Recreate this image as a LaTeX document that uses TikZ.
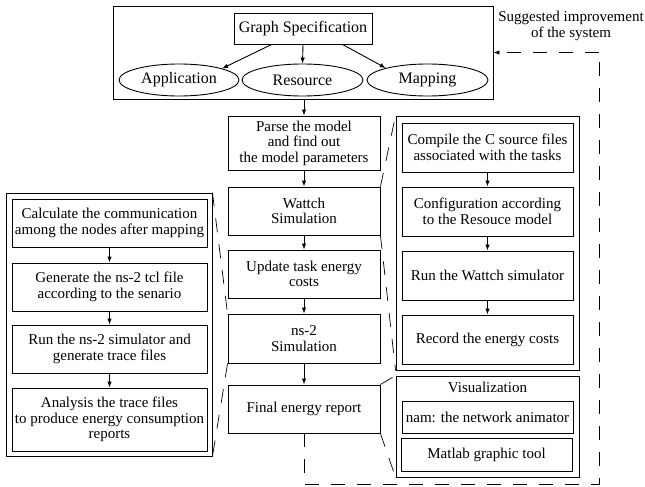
\documentclass[tikz,border=0pt]{standalone}
\usepackage{fontspec}
\setmainfont{Liberation Serif}
\usetikzlibrary{arrows.meta,shapes.geometric}
\begin{document}
\begin{tikzpicture}[x=1pt,y=-1pt,
  every node/.style={font=\fontsize{15}{15.5}\selectfont, align=center, inner sep=0pt},
  box/.style={draw, line width=0.9pt, rectangle, minimum width=#1},
  box/.default=152,
  ell/.style={draw, line width=0.9pt, ellipse, minimum width=121, minimum height=32, font=\fontsize{16}{16}\selectfont},
  arr/.style={line width=0.9pt, -{Latex[length=6pt,width=4.5pt]}},
  zoomline/.style={line width=0.7pt, dash pattern=on 14pt off 12pt},
  fb/.style={line width=0.9pt, dash pattern=on 14pt off 12pt}
]
\useasboundingbox (0,0) rectangle (645,487);
% top group
\node[box=380, minimum height=93] (top) at (303,52.5) {};
\node[box=138, minimum height=31, font=\fontsize{16}{16}\selectfont] (gs) at (303,28.5) {Graph Specification};
\node[ell, minimum width=120] (app) at (179,80) {Application};
\node[ell] (res) at (302.5,80) {Resource};
\node[ell] (map) at (427.5,80) {Mapping};
\draw[arr] (gs.207) -- (app.15);
\draw[arr] (gs.south) -- (res.north);
\draw[arr] (gs.-22.7) -- (map.164);
% middle column
\node[box, minimum height=54] (parse) at (304,143) {Parse the model\\and find out\\the model parameters};
\node[box, minimum height=48] (wattch) at (304,211) {Wattch\\Simulation};
\node[box, minimum height=48] (update) at (304,274) {Update task energy\\costs};
\node[box, minimum height=49] (ns) at (304,338.5) {ns-2\\Simulation};
\node[box, minimum height=48] (final) at (304,409) {Final energy report};
\draw[arr] (top.south -| parse.north) -- (parse.north);
\draw[arr] (parse) -- (wattch);
\draw[arr] (wattch) -- (update);
\draw[arr] (update) -- (ns);
\draw[arr] (ns) -- (final);
% left group
\node[box=206, minimum height=263] (lout) at (109,324.5) {};
\node[box=195, minimum height=48] (calc) at (109.5,223) {Calculate the communication\\among the nodes after mapping};
\node[box=195, minimum height=48] (gen) at (109.5,287) {Generate the ns-2 tcl file\\according to the senario};
\node[box=195, minimum height=48] (runns) at (109.5,349) {Run the ns-2 simulator and\\generate trace files};
\node[box=195, minimum height=63] (anal) at (109.5,419.5) {Analysis the trace files\\to produce energy consumption\\reports};
\draw[arr] (calc) -- (gen);
\draw[arr] (gen) -- (runns);
\draw[arr] (runns) -- (anal);
% right group
\node[box=183, minimum height=254] (rout) at (487.5,243) {};
\node[box=171, minimum height=49] (comp) at (487.5,147.5) {Compile the C source files\\associated with the tasks};
\node[box=171, minimum height=49] (conf) at (487.5,211.5) {Configuration according\\to the Resouce model};
\node[box=171, minimum height=49] (runw) at (487.5,275.5) {Run the Wattch simulator};
\node[box=171, minimum height=49] (rec) at (487.5,339.5) {Record the energy costs};
\draw[arr] (comp) -- (conf);
\draw[arr] (conf) -- (runw);
\draw[arr] (runw) -- (rec);
% visualization
\node[box=183, minimum height=101] (viz) at (487.5,426.5) {};
\node (viztitle) at (487.5,387) {Visualization};
\node[box=171, minimum height=32] (nam) at (487.5,417) {nam: the network animator};
\node[box=171, minimum height=33] (mat) at (486.5,454.5) {Matlab graphic tool};
% zoom lines
\draw[zoomline] (wattch.north east) -- (rout.north west);
\draw[zoomline] (wattch.south east) -- (rout.south west);
\draw[zoomline] (lout.north east) -- (ns.north west);
\draw[zoomline] (ns.south west) -- (lout.south east);
\draw[zoomline] (final.north east) -- (viz.north west);
\draw[zoomline] (final.south east) -- (viz.south west);
% feedback
\coordinate (c1) at (304,484);
\coordinate (c2) at (599,484);
\coordinate (c3) at (599,52.5);
\draw[fb] (final.south) -- (c1) -- (c2) -- (c3);
\draw[fb, -{Latex[length=6pt,width=4.5pt]}] (c3) -- (top.east);
\node (sugg) at (571,26) {Suggested improvement\\of the system};
\end{tikzpicture}
\end{document}
